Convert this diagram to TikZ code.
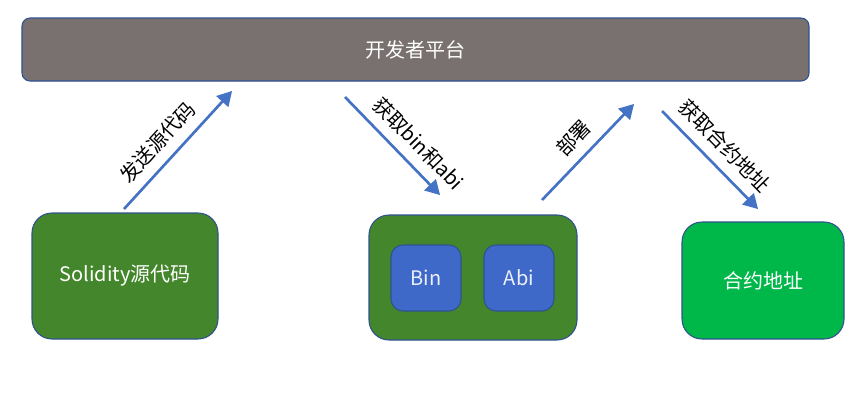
\documentclass[tikz,border=0pt]{standalone}
\usepackage{fontspec}
\setmainfont{Noto Sans CJK SC}
\usetikzlibrary{arrows}
\definecolor{platgray}{HTML}{787170}
\definecolor{edgeblue}{HTML}{2F528F}
\definecolor{srcgreen}{HTML}{43862B}
\definecolor{addrgreen}{HTML}{00B74A}
\definecolor{fileblue}{HTML}{3F69C9}
\definecolor{arrowblue}{HTML}{4472C4}

\tikzset{
	box/.style={draw=edgeblue, line width=0.8pt, inner sep=0pt, text=white, font=\fontsize{15pt}{17pt}\selectfont},
	flow/.style={-triangle 60, arrowblue, line width=2pt},
	flowlabel/.style={sloped, above=4pt, text=black, font=\fontsize{15pt}{17pt}\selectfont}
}

\begin{document}
\begin{tikzpicture}[x=0.75pt, y=-0.75pt]
	\useasboundingbox (0,0) rectangle (862,401);
	\node [box, fill=platgray, rounded corners=6pt, minimum width=590.25pt, minimum height=47.25pt] (platform) at (415.5,49.5) {开发者平台};
	\node [box, fill=srcgreen, rounded corners=15pt, minimum width=139.5pt, minimum height=94.5pt] (source) at (125,276) {Solidity源代码};
	\node [box, fill=srcgreen, rounded corners=15pt, minimum width=156pt, minimum height=93.75pt] (build) at (473,277.5) {};
	\node [box, fill=fileblue, rounded corners=9pt, minimum width=52.5pt, minimum height=49.5pt, text=white!90!fileblue] (bin) at (426,278) {Bin};
	\node [box, fill=fileblue, rounded corners=9pt, minimum width=52.5pt, minimum height=49.5pt, text=white!90!fileblue] (abi) at (519,278) {Abi};
	\node [box, fill=addrgreen, rounded corners=15pt, minimum width=121.5pt, minimum height=87.75pt] (address) at (763,280.5) {合约地址};
	% arrow end points
	\coordinate (send0) at (124,209);
	\coordinate (send1) at (232,91);
	\coordinate (get0) at (345,97);
	\coordinate (get1) at (440,195);
	\coordinate (deploy0) at (542,200);
	\coordinate (deploy1) at (634,104);
	\coordinate (addr0) at (662,111);
	\coordinate (addr1) at (758,209);
	\draw [flow] (send0) -- (send1) node [flowlabel, pos=0.45] {发送源代码};
	\draw [flow] (get0) -- (get1) node [flowlabel, pos=0.62] {获取bin和abi};
	\draw [flow] (deploy0) -- (deploy1) node [flowlabel, midway] {部署};
	\draw [flow] (addr0) -- (addr1) node [flowlabel, midway] {获取合约地址};
\end{tikzpicture}
\end{document}
